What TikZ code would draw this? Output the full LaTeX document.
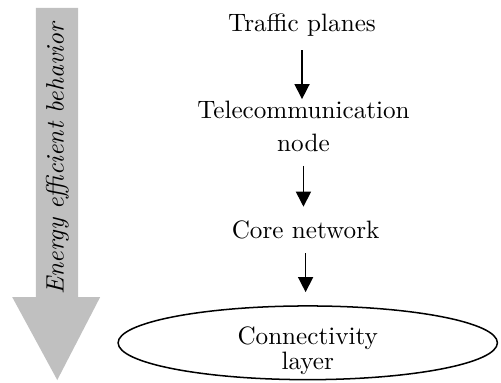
\documentclass[tikz,border=0pt]{standalone}
\usepackage{tikz}
\usepackage{xcolor}
\usetikzlibrary{arrows.meta, positioning, shapes.geometric}
\definecolor{flowgray}{RGB}{192, 192, 192}

\begin{document}
\begin{tikzpicture}[
    level/.style={align=center, font=\normalsize},
    layer/.style={ellipse, draw, line width=0.6pt, inner sep=0pt, minimum width=5.3cm, minimum height=1.03cm},
    flow/.style={line width=0.6pt, -{Triangle[length=6pt, width=6pt]}},
    bigarrow/.style={fill=flowgray, draw=none}
]
\useasboundingbox (0,0) rectangle (7.0,5.35);

% Gray arrow (left)
\fill[bigarrow] (0.50,5.24) -- (1.09,5.24) -- (1.09,1.20) -- (1.40,1.20)
    -- (0.80,0.04) -- (0.17,1.20) -- (0.50,1.20) -- cycle;
\node[rotate=90, font=\itshape] (energy) at (0.80,3.13) {Energy efficient behavior};

% Levels (right)
\node[level] (traffic) at (4.22,5.00) {Traffic planes};
\node[level] (telecom) at (4.24,3.58) {Telecommunication\\[1pt]node};
\node[level] (core) at (4.27,2.14) {Core network};
\node[layer] (conn) at (4.30,0.56) {};
\node[level] (connlabel) at ([yshift=-3pt]conn.center) {Connectivity\\[-2pt]layer};

\draw[flow, shorten <=2pt, shorten >=-2.6pt] (traffic) -- (traffic |- telecom.north);
\draw[flow, shorten <=2pt, shorten >=2pt] (telecom) -- (telecom |- core.north);
\draw[flow, shorten <=2.2pt, shorten >=5.2pt] (core) -- (core |- conn.north);

\end{tikzpicture}
\end{document}
